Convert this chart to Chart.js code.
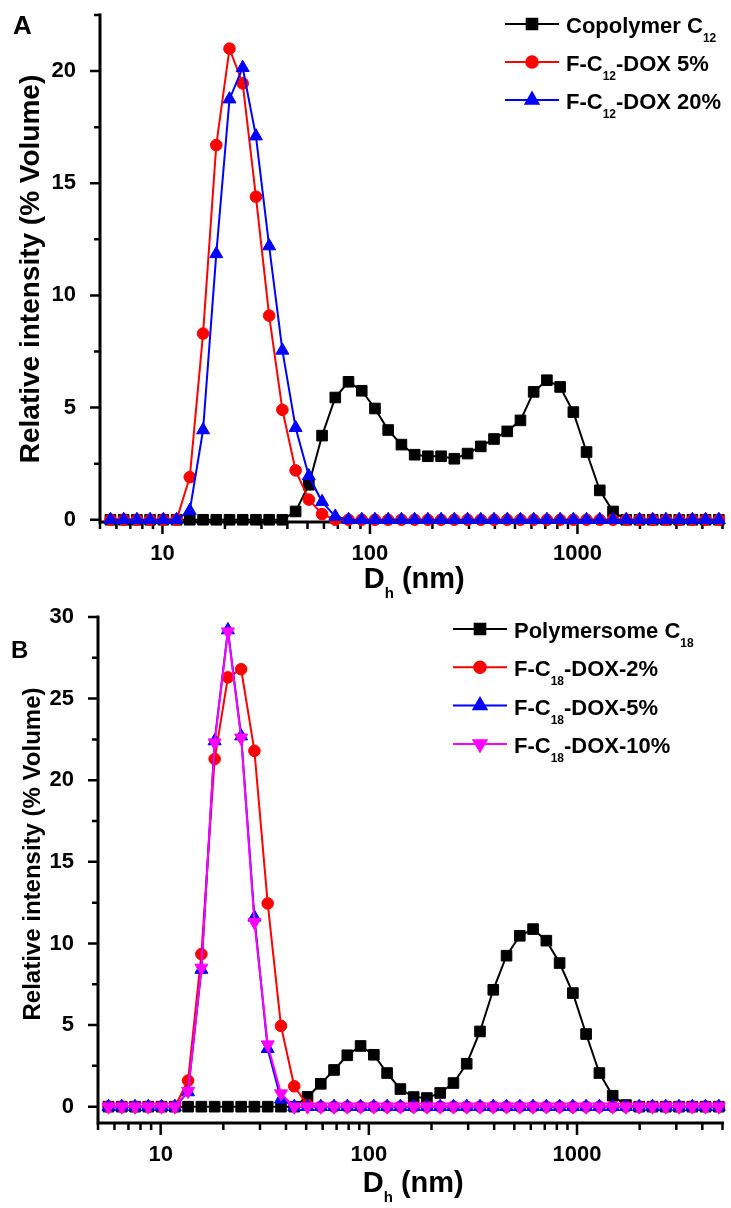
<!DOCTYPE html>
<html>
<head>
<meta charset="utf-8">
<script src="https://cdn.jsdelivr.net/npm/chart.js@4.4.1/dist/chart.umd.min.js"></script>
<style>
  html, body { margin: 0; padding: 0; background: #fff; }
  #wrap { position: relative; width: 731px; height: 1208px; }
  canvas { position: absolute; left: 0; }
</style>
</head>
<body>
<div id="wrap">
  <canvas id="chartA" width="731" height="600" style="top:0"></canvas>
  <canvas id="chartB" width="731" height="608" style="top:600px"></canvas>
</div>
<script>
"use strict";

// DATA -----------------------
// hydrodynamic diameter bins (nm)
const sizes = [
  5.615, 6.503, 7.531, 8.721, 10.1, 11.7, 13.54, 15.69, 18.17, 21.04,
  24.36, 28.21, 32.67, 37.84, 43.82, 50.75, 58.77, 68.06, 78.82, 91.28,
  105.7, 122.4, 141.8, 164.2, 190.1, 220.2, 255.0, 295.3, 342.0, 396.1,
  458.7, 531.2, 615.1, 712.4, 825.0, 955.4, 1106, 1281, 1484, 1718,
  1990, 2305, 2669, 3091, 3580, 4145, 4801
];

// panel A
const copolymerC12 = [
  0, 0, 0, 0, 0, 0, 0, 0, 0, 0,
  0, 0, 0, 0, 0.37, 1.56, 3.75, 5.45, 6.15, 5.75,
  4.96, 4.0, 3.35, 2.9, 2.83, 2.83, 2.72, 2.95, 3.27, 3.6,
  3.94, 4.43, 5.7, 6.22, 5.92, 4.8, 3.02, 1.31, 0.37, 0,
  0, 0, 0, 0, 0, 0, 0
];
const fC12Dox5 = [
  0, 0, 0, 0, 0, 0, 1.9, 8.3, 16.7, 21.0,
  19.45, 14.4, 9.1, 4.9, 2.2, 0.9, 0.25, 0, 0, 0,
  0, 0, 0, 0, 0, 0, 0, 0, 0, 0,
  0, 0, 0, 0, 0, 0, 0, 0, 0, 0,
  0, 0, 0, 0, 0, 0, 0
];
const fC12Dox20 = [
  0, 0, 0, 0, 0, 0, 0.4, 4.0, 11.85, 18.75,
  20.15, 17.1, 12.2, 7.55, 4.1, 1.95, 0.8, 0.15, 0, 0,
  0, 0, 0, 0, 0, 0, 0, 0, 0, 0,
  0, 0, 0, 0, 0, 0, 0, 0, 0, 0,
  0, 0, 0, 0, 0, 0, 0
];

// panel B
const polymersomeC18 = [
  0, 0, 0, 0, 0, 0, 0, 0, 0, 0,
  0, 0, 0, 0, 0, 0.6, 1.4, 2.25, 3.15, 3.72,
  3.18, 2.06, 1.08, 0.59, 0.53, 0.84, 1.45, 2.63, 4.61, 7.16,
  9.25, 10.47, 10.88, 10.17, 8.8, 6.96, 4.45, 2.06, 0.67, 0.1,
  0, 0, 0, 0, 0, 0, 0
];
const fC18Dox2 = [
  0, 0, 0, 0, 0, 0, 1.6, 9.35, 21.3, 26.3,
  26.8, 21.8, 12.45, 4.95, 1.25, 0.1, 0, 0, 0, 0,
  0, 0, 0, 0, 0, 0, 0, 0, 0, 0,
  0, 0, 0, 0, 0, 0, 0, 0, 0, 0,
  0, 0, 0, 0, 0, 0, 0
];
const fC18Dox5 = [
  0, 0, 0, 0, 0, 0, 0.9, 8.4, 22.4, 29.2,
  22.7, 11.6, 3.55, 0.45, 0, 0, 0, 0, 0, 0,
  0, 0, 0, 0, 0, 0, 0, 0, 0, 0,
  0, 0, 0, 0, 0, 0, 0, 0, 0, 0,
  0, 0, 0, 0, 0, 0, 0
];
const fC18Dox10 = [
  0, 0, 0, 0, 0, 0, 0.95, 8.5, 22.3, 29.1,
  22.6, 11.3, 3.8, 0.8, 0, 0, 0, 0, 0, 0,
  0, 0, 0, 0, 0, 0, 0, 0, 0, 0,
  0, 0, 0, 0, 0, 0, 0, 0, 0, 0,
  0, 0, 0, 0, 0, 0, 0
];

// tick values
const xMajorTicks = [10, 100, 1000];
const xMinorTicks = [5, 6, 7, 8, 9, 20, 30, 40, 50, 60, 70, 80, 90,
  200, 300, 400, 500, 600, 700, 800, 900, 2000, 3000, 4000, 5000];
const yMajorTicksA = [0, 5, 10, 15, 20];
const yMinorTicksA = [2.5, 7.5, 12.5, 17.5, 22.5];
const yMajorTicksB = [0, 5, 10, 15, 20, 25, 30];
const yMinorTicksB = [2.5, 7.5, 12.5, 17.5, 22.5, 27.5];

// legend labels, split into [text, isSubscript] pieces
const legendA = [
  [["Copolymer C", false], ["12", true]],
  [["F-C", false], ["12", true], ["-DOX 5%", false]],
  [["F-C", false], ["12", true], ["-DOX 20%", false]]
];
const legendB = [
  [["Polymersome C", false], ["18", true]],
  [["F-C", false], ["18", true], ["-DOX-2%", false]],
  [["F-C", false], ["18", true], ["-DOX-5%", false]],
  [["F-C", false], ["18", true], ["-DOX-10%", false]]
];

// STYLE -----------------------
const FONT = '"Liberation Sans", Arial, sans-serif';
Chart.defaults.font.family = FONT;
Chart.defaults.font.weight = 'bold';
Chart.defaults.color = '#000';

const markers = {
  black:   { color: '#000000', pointStyle: 'rect', radius: 7.5, rotation: 0 },
  red:     { color: '#ff0000', pointStyle: 'circle', radius: 5.8, rotation: 0 },
  blue:    { color: '#0000ff', pointStyle: 'triangle', radius: 7.5, rotation: 0 },
  magenta: { color: '#ff00ff', pointStyle: 'triangle', radius: 7.5, rotation: 180 }
};

function toPoints(values) {
  return values.map((v, i) => ({ x: sizes[i], y: v }));
}

function makeDataset(values, m, order) {
  return {
    data: toPoints(values),
    borderColor: m.color,
    backgroundColor: m.color,
    borderWidth: 2,
    pointStyle: m.pointStyle,
    pointRadius: m.radius,
    pointRotation: m.rotation,
    pointBorderWidth: 1,
    pointBorderColor: m.color,
    pointBackgroundColor: m.color,
    tension: 0,
    clip: false,
    order: order
  };
}

// draw text made of normal + subscript pieces, starting at x
function drawRichText(ctx, pieces, x, baseline, size, subSize, subDrop) {
  pieces.forEach(([text, sub]) => {
    ctx.font = `bold ${sub ? subSize : size}px ${FONT}`;
    ctx.fillText(text, x, sub ? baseline + subDrop : baseline);
    x += ctx.measureText(text).width;
  });
  return x;
}

function richWidth(ctx, pieces, size, subSize) {
  return pieces.reduce((w, [text, sub]) => {
    ctx.font = `bold ${sub ? subSize : size}px ${FONT}`;
    return w + ctx.measureText(text).width;
  }, 0);
}

// axes, ticks, legend and titles in the Origin look
const panelDecor = {
  id: 'panelDecor',
  beforeDatasetsDraw(chart, args, o) {
    const { ctx, chartArea: a, scales: { x, y } } = chart;
    ctx.save();
    ctx.strokeStyle = '#000';
    ctx.lineWidth = 2.5;
    ctx.beginPath();
    xMinorTicks.forEach(v => {
      const p = x.getPixelForValue(v);
      ctx.moveTo(p, a.bottom); ctx.lineTo(p, a.bottom + 7);
    });
    xMajorTicks.forEach(v => {
      const p = x.getPixelForValue(v);
      ctx.moveTo(p, a.bottom); ctx.lineTo(p, a.bottom + 12);
    });
    o.yMinor.forEach(v => {
      const p = y.getPixelForValue(v);
      ctx.moveTo(a.left, p); ctx.lineTo(a.left - 6, p);
    });
    o.yMajor.forEach(v => {
      const p = y.getPixelForValue(v);
      ctx.moveTo(a.left, p); ctx.lineTo(a.left - 10, p);
    });
    ctx.stroke();

    ctx.lineWidth = 3;
    ctx.lineCap = 'square';
    ctx.beginPath();
    ctx.moveTo(a.left, a.top);
    ctx.lineTo(a.left, a.bottom);
    ctx.lineTo(a.right, a.bottom);
    ctx.stroke();
    ctx.restore();
  },
  afterDraw(chart, args, o) {
    const { ctx, chartArea: a } = chart;
    ctx.save();
    ctx.fillStyle = '#000';
    ctx.textBaseline = 'alphabetic';
    ctx.textAlign = 'left';

    // panel letter
    ctx.font = `bold ${o.letterSize}px ${FONT}`;
    ctx.fillText(o.letter, o.letterX, o.letterY);

    // y title
    ctx.save();
    ctx.translate(o.yTitleX, o.yTitleY);
    ctx.rotate(-Math.PI / 2);
    ctx.textAlign = 'center';
    ctx.textBaseline = 'middle';
    ctx.font = `bold ${o.yTitleSize}px ${FONT}`;
    ctx.fillText('Relative intensity (% Volume)', 0, 0);
    ctx.restore();

    // x title: D_h (nm)
    const xPieces = [["D", false], ["h", true], [" (nm)", false]];
    const w = richWidth(ctx, xPieces, 29, 15);
    drawRichText(ctx, xPieces, (a.left + a.right) / 2 - w / 2 + 3, o.xTitleY, 29, 15, 10);

    // legend
    o.legend.forEach((pieces, i) => {
      const ds = chart.data.datasets[i];
      const rowY = o.legendY + i * o.legendStep;
      ctx.strokeStyle = ds.borderColor;
      ctx.fillStyle = ds.backgroundColor;
      ctx.lineWidth = 2;
      ctx.beginPath();
      ctx.moveTo(o.legendX, rowY);
      ctx.lineTo(o.legendX + 54, rowY);
      ctx.stroke();
      Chart.helpers.drawPoint(ctx, {
        pointStyle: ds.pointStyle,
        rotation: ds.pointRotation,
        radius: ds.pointRadius,
        borderWidth: 1
      }, o.legendX + 27, rowY);
      ctx.fillStyle = '#000';
      drawRichText(ctx, pieces, o.legendX + 61, rowY + 9, 22, 12, 9);
    });
    ctx.restore();
  }
};

function makeChart(canvasId, datasets, cfg) {
  return new Chart(document.getElementById(canvasId).getContext('2d'), {
    type: 'line',
    data: { datasets: datasets },
    plugins: [panelDecor],
    options: {
      responsive: false,
      animation: false,
      devicePixelRatio: 1,
      layout: { padding: cfg.padding },
      plugins: {
        legend: { display: false },
        tooltip: { enabled: false },
        panelDecor: cfg.decor
      },
      scales: {
        x: {
          type: 'logarithmic',
          min: 5,
          max: 5000,
          grid: { display: false },
          border: { display: false },
          afterBuildTicks: s => { s.ticks = xMajorTicks.map(v => ({ value: v })); },
          afterFit: s => {
            s.height = cfg.xHeight;
            s.paddingLeft = 0;
            s.paddingRight = 0;
          },
          ticks: {
            font: { size: 22, weight: 'bold' },
            padding: 11,
            maxRotation: 0,
            autoSkip: false,
            callback: v => String(v)
          }
        },
        y: {
          min: cfg.yMin,
          max: cfg.yMax,
          grid: { display: false },
          border: { display: false },
          afterBuildTicks: s => { s.ticks = cfg.decor.yMajor.map(v => ({ value: v })); },
          afterFit: s => {
            s.width = cfg.yWidth;
            s.paddingTop = 0;
            s.paddingBottom = 0;
          },
          ticks: {
            font: { size: 22, weight: 'bold' },
            padding: 16,
            callback: v => String(v)
          }
        }
      }
    }
  });
}

// CHARTS -----------------------
makeChart('chartA', [
  makeDataset(copolymerC12, markers.black, 3),
  makeDataset(fC12Dox5, markers.red, 2),
  makeDataset(fC12Dox20, markers.blue, 1)
], {
  padding: { left: 0, right: 3, top: 15, bottom: 0 },
  xHeight: 78,
  yWidth: 100,
  yMin: -0.1,
  yMax: 22.5,
  decor: {
    yMajor: yMajorTicksA,
    yMinor: yMinorTicksA,
    letter: 'A', letterSize: 26, letterX: 13, letterY: 34,
    yTitleX: 31, yTitleY: 269, yTitleSize: 28,
    xTitleY: 588,
    legend: legendA, legendX: 505, legendY: 24, legendStep: 38
  }
});

makeChart('chartB', [
  makeDataset(polymersomeC18, markers.black, 4),
  makeDataset(fC18Dox2, markers.red, 3),
  makeDataset(fC18Dox5, markers.blue, 2),
  makeDataset(fC18Dox10, markers.magenta, 1)
], {
  padding: { left: 0, right: 5, top: 17, bottom: 0 },
  xHeight: 85,
  yWidth: 98,
  yMin: -1,
  yMax: 30,
  decor: {
    yMajor: yMajorTicksB,
    yMinor: yMinorTicksB,
    letter: 'B', letterSize: 24, letterX: 11, letterY: 58,
    yTitleX: 33, yTitleY: 254, yTitleSize: 24,
    xTitleY: 592,
    legend: legendB, legendX: 453, legendY: 29, legendStep: 38.3
  }
});
</script>
</body>
</html>
